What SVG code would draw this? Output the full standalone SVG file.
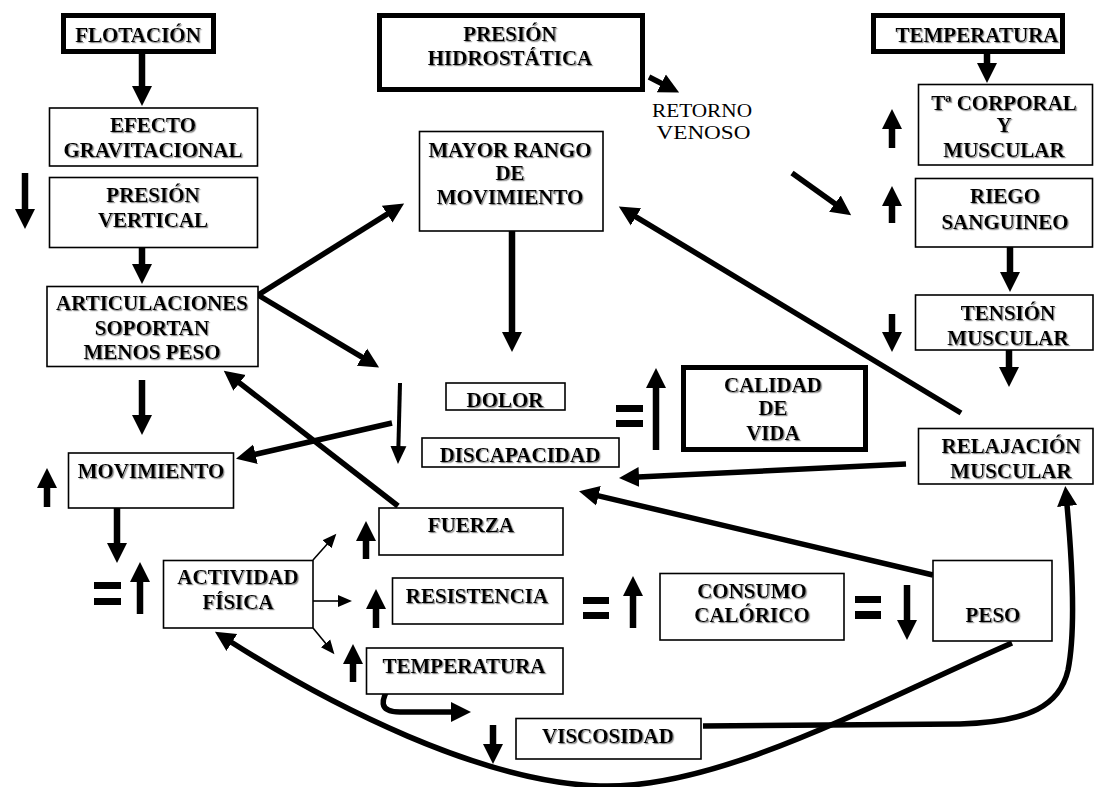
<svg xmlns="http://www.w3.org/2000/svg" width="1094" height="787" viewBox="0 0 1094 787">
<defs>
<style>
.b{fill:#fff;stroke:#000;stroke-width:1.6}
.bt{fill:#fff;stroke:#000;stroke-width:5}
.t{font-family:"Liberation Serif","Times New Roman",serif;font-weight:bold;font-size:21px;text-anchor:middle;fill:#000;filter:url(#sh)}
.r{font-family:"Liberation Serif","Times New Roman",serif;font-size:18px;text-anchor:middle;fill:#000}
.c{fill:none;stroke:#000;stroke-width:5.5}
.cs{fill:none;stroke:#000;stroke-width:6.5}
.cm{fill:none;stroke:#000;stroke-width:4}
.cf{fill:none;stroke:#000;stroke-width:1.6}
.eq{fill:#000}
</style>
<filter id="sh" x="-10%" y="-20%" width="130%" height="150%">
<feDropShadow dx="1.2" dy="1.2" stdDeviation="0.5" flood-color="#8a8a8a" flood-opacity="1"/>
</filter>
<marker id="ah" markerUnits="userSpaceOnUse" markerWidth="22" markerHeight="22" refX="1" refY="10" orient="auto" viewBox="0 0 22 20">
<path d="M0,0 L20,10 L0,20 z" fill="#000"/>
</marker>
<marker id="am" markerUnits="userSpaceOnUse" markerWidth="20" markerHeight="18" refX="1" refY="8" orient="auto" viewBox="0 0 20 16">
<path d="M0,0 L18,8 L0,16 z" fill="#000"/>
</marker>
<marker id="af" markerUnits="userSpaceOnUse" markerWidth="16" markerHeight="14" refX="1" refY="6" orient="auto" viewBox="0 0 16 12">
<path d="M0,0 L14,6 L0,12 z" fill="#000"/>
</marker>
</defs>
<rect width="1094" height="787" fill="#fff"/>

<g id="connectors">
<path class="cs" d="M142,54 L142,87" marker-end="url(#ah)"/>
<path class="cs" d="M142,248 L142,265" marker-end="url(#ah)"/>
<path class="cs" d="M142,380 L142,416" marker-end="url(#ah)"/>
<path class="cs" d="M117,508 L117,544" marker-end="url(#ah)"/>
<path class="cs" d="M512,231 L512,333" marker-end="url(#ah)"/>
<path class="cs" d="M987,54 L987,64" marker-end="url(#ah)"/>
<path class="cs" d="M1010,247 L1010,273" marker-end="url(#ah)"/>
<path class="cs" d="M1009,350 L1009,368" marker-end="url(#ah)"/>
<path class="c" d="M258,295 L388,213.6" marker-end="url(#ah)"/>
<path class="c" d="M258,295 L362.8,357.7" marker-end="url(#ah)"/>
<path class="c" d="M398,506 L238.8,382.3" marker-end="url(#ah)"/>
<path class="c" d="M392,423 L254.5,454.5" marker-end="url(#ah)"/>
<path class="c" d="M961,413 L635.1,216.3" marker-end="url(#ah)"/>
<path class="c" d="M906,464 L638,477" marker-end="url(#ah)"/>
<path class="c" d="M933,575 L597.5,495.6" marker-end="url(#ah)"/>
<path class="c" d="M649,77 L662.2,83.8" marker-end="url(#ah)"/>
<path class="c" d="M792,173 L835.7,204.3" marker-end="url(#ah)"/>
<path class="c" d="M392,683 C380,700 378,712 400,712 L452,712" marker-end="url(#ah)"/>
<path class="c" d="M703,726 L960,724 C1030,722 1060,705 1068,670 C1076,630 1072,560 1067,505" marker-end="url(#ah)"/>
<path class="c" d="M1012,643 C880,700 720,790 600,786 C480,782 330,705 231,642" marker-end="url(#ah)"/>
<path class="cf" d="M313,560 L327.7,543.5" marker-end="url(#af)"/>
<path class="cf" d="M313,601 L339,601" marker-end="url(#af)"/>
<path class="cf" d="M313,628 L326.2,644.1" marker-end="url(#af)"/>
</g>

<g id="symbols">
<path class="cs" d="M25,173 L25,210" marker-end="url(#ah)"/>
<path class="cs" d="M892,314 L892,333" marker-end="url(#ah)"/>
<path class="cs" d="M493,725 L493,745" marker-end="url(#ah)"/>
<path class="cs" d="M907,585 L907,621" marker-end="url(#ah)"/>
<path class="cm" d="M400,383 L398.4,447" marker-end="url(#am)"/>
<path class="cs" d="M47,507 L47,487" marker-end="url(#ah)"/>
<path class="cs" d="M140,614 L140,581" marker-end="url(#ah)"/>
<path class="cs" d="M366,559 L366,540" marker-end="url(#ah)"/>
<path class="cs" d="M376,628 L376,608" marker-end="url(#ah)"/>
<path class="cs" d="M353,682 L353,663" marker-end="url(#ah)"/>
<path class="cs" d="M892,148 L892,128" marker-end="url(#ah)"/>
<path class="cs" d="M892,223 L892,205" marker-end="url(#ah)"/>
<path class="cs" d="M656,450 L656,387" marker-end="url(#ah)"/>
<path class="cs" d="M633,628 L633,595" marker-end="url(#ah)"/>
<rect class="eq" x="94" y="582" width="27" height="7"/>
<rect class="eq" x="94" y="598" width="27" height="7"/>
<rect class="eq" x="616" y="405" width="27" height="7"/>
<rect class="eq" x="616" y="420" width="27" height="7"/>
<rect class="eq" x="583" y="597" width="26" height="7"/>
<rect class="eq" x="583" y="612" width="26" height="7"/>
<rect class="eq" x="855" y="596" width="26" height="7"/>
<rect class="eq" x="855" y="611" width="26" height="8"/>
</g>

<g id="flotacion"><rect class="bt" x="63.5" y="15.5" width="150" height="36"/><text class="t" x="138" y="42">FLOTACIÓN</text></g>
<g id="presion-hidrostatica"><rect class="bt" x="379.5" y="15.5" width="263" height="74"/><text class="t" x="510" y="41">PRESIÓN</text><text class="t" x="510" y="65">HIDROSTÁTICA</text></g>
<g id="temperatura-top"><rect class="bt" x="873.5" y="15.5" width="189" height="36"/><text class="t" x="977" y="42">TEMPERATURA</text></g>
<g id="efecto"><rect class="b" x="49.5" y="108" width="208" height="58"/><text class="t" x="153" y="132">EFECTO</text><text class="t" x="153" y="157">GRAVITACIONAL</text></g>
<g id="presion-vertical"><rect class="b" x="49.5" y="177.5" width="208" height="70"/><text class="t" x="153" y="202">PRESIÓN</text><text class="t" x="153" y="227">VERTICAL</text></g>
<g id="articulaciones"><rect class="b" x="47" y="286.5" width="211" height="80"/><text class="t" x="152" y="310">ARTICULACIONES</text><text class="t" x="152" y="335">SOPORTAN</text><text class="t" x="152" y="359">MENOS PESO</text></g>
<g id="movimiento"><rect class="b" x="68.5" y="453" width="165" height="55"/><text class="t" x="151" y="478">MOVIMIENTO</text></g>
<g id="mayor-rango"><rect class="b" x="419.5" y="131.5" width="183.5" height="99.5"/><text class="t" x="510" y="157">MAYOR RANGO</text><text class="t" x="510" y="180">DE</text><text class="t" x="510" y="204">MOVIMIENTO</text></g>
<g id="retorno-venoso"><text class="r" x="702" y="117" textLength="100" lengthAdjust="spacingAndGlyphs">RETORNO</text><text class="r" x="703.5" y="139" textLength="94" lengthAdjust="spacingAndGlyphs">VENOSO</text></g>
<g id="t-corporal"><rect class="b" x="918.5" y="84.5" width="174" height="80.5"/><text class="t" x="1004" y="110">Tª CORPORAL</text><text class="t" x="1004" y="132">Y</text><text class="t" x="1004" y="157">MUSCULAR</text></g>
<g id="riego"><rect class="b" x="915.5" y="178.5" width="177" height="68.5"/><text class="t" x="1005" y="203">RIEGO</text><text class="t" x="1005" y="229">SANGUINEO</text></g>
<g id="tension"><rect class="b" x="915.5" y="295" width="177.5" height="55"/><text class="t" x="1008" y="320">TENSIÓN</text><text class="t" x="1008" y="345">MUSCULAR</text></g>
<g id="relajacion"><rect class="b" x="918.5" y="428.5" width="174.5" height="55.5"/><text class="t" x="1011" y="453">RELAJACIÓN</text><text class="t" x="1011" y="478">MUSCULAR</text></g>
<g id="calidad"><rect class="bt" x="683.5" y="367.5" width="182" height="82"/><text class="t" x="773" y="392">CALIDAD</text><text class="t" x="773" y="415">DE</text><text class="t" x="773" y="440">VIDA</text></g>
<g id="dolor"><rect class="b" x="446" y="383" width="119" height="27"/><text class="t" x="505" y="407">DOLOR</text></g>
<g id="discapacidad"><rect class="b" x="422" y="438" width="197" height="29"/><text class="t" x="520" y="462">DISCAPACIDAD</text></g>
<g id="actividad"><rect class="b" x="163.5" y="560.5" width="149.5" height="67.5"/><text class="t" x="238" y="584">ACTIVIDAD</text><text class="t" x="238" y="609">FÍSICA</text></g>
<g id="fuerza"><rect class="b" x="379" y="508" width="184" height="47"/><text class="t" x="471" y="532">FUERZA</text></g>
<g id="resistencia"><rect class="b" x="392.5" y="578" width="170.5" height="46"/><text class="t" x="477" y="603">RESISTENCIA</text></g>
<g id="temperatura-low"><rect class="b" x="366.5" y="648" width="196.5" height="46"/><text class="t" x="464" y="673">TEMPERATURA</text></g>
<g id="viscosidad"><rect class="b" x="516" y="718.5" width="185" height="40.5"/><text class="t" x="608" y="743">VISCOSIDAD</text></g>
<g id="consumo"><rect class="b" x="660" y="573.5" width="184" height="66.5"/><text class="t" x="752" y="598">CONSUMO</text><text class="t" x="752" y="622">CALÓRICO</text></g>
<g id="peso"><rect class="b" x="933" y="560.5" width="119" height="80.5"/><text class="t" x="993" y="622">PESO</text></g>
</svg>
